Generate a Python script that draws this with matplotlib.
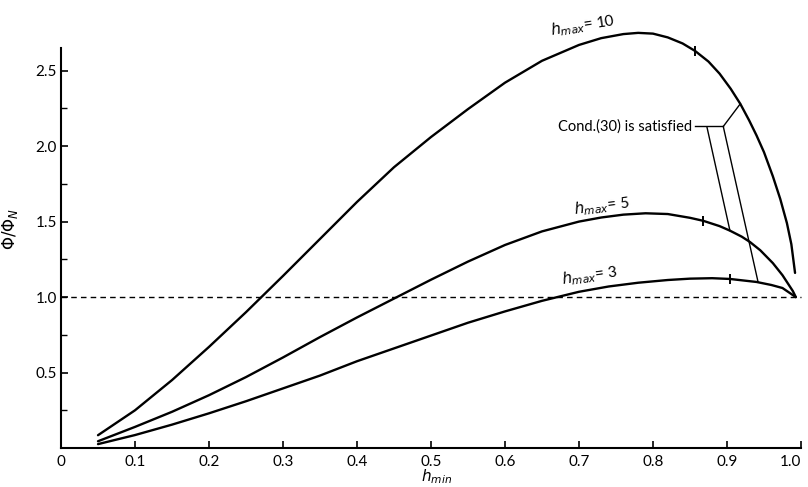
import matplotlib
matplotlib.use("Agg")
import matplotlib.pyplot as plt

plt.rcParams["font.family"] = ["Lato", "DejaVu Sans"]

# curve readings: h_min vs Phi/Phi_N
h10_x = [0.05, 0.1, 0.15, 0.2, 0.25, 0.3, 0.35, 0.4, 0.45, 0.5, 0.55, 0.6,
         0.65, 0.7, 0.73, 0.76, 0.78, 0.8, 0.82, 0.84, 0.857, 0.875, 0.89,
         0.905, 0.918, 0.93, 0.94, 0.95, 0.962, 0.972, 0.981, 0.987, 0.992]
h10_y = [0.085, 0.25, 0.45, 0.67, 0.90, 1.14, 1.385, 1.63, 1.86, 2.06, 2.245, 2.42,
         2.565, 2.67, 2.715, 2.742, 2.75, 2.745, 2.72, 2.68, 2.63, 2.56, 2.48,
         2.38, 2.28, 2.17, 2.07, 1.96, 1.80, 1.65, 1.49, 1.35, 1.16]

h5_x = [0.05, 0.1, 0.15, 0.2, 0.25, 0.3, 0.35, 0.4, 0.45, 0.5, 0.55, 0.6,
        0.65, 0.7, 0.73, 0.76, 0.79, 0.82, 0.85, 0.868, 0.89, 0.904, 0.92,
        0.931, 0.945, 0.962, 0.975, 0.989, 0.993]
h5_y = [0.045, 0.14, 0.24, 0.35, 0.47, 0.60, 0.735, 0.865, 0.99, 1.115, 1.235, 1.345,
        1.435, 1.50, 1.527, 1.546, 1.555, 1.55, 1.525, 1.505, 1.47, 1.44, 1.40,
        1.365, 1.31, 1.225, 1.145, 1.04, 1.0]

h3_x = [0.05, 0.1, 0.15, 0.2, 0.25, 0.3, 0.35, 0.4, 0.45, 0.5, 0.55, 0.6,
        0.65, 0.7, 0.74, 0.78, 0.82, 0.85, 0.88, 0.904, 0.94, 0.96, 0.975, 0.993]
h3_y = [0.026, 0.086, 0.155, 0.23, 0.31, 0.395, 0.48, 0.575, 0.66, 0.745, 0.83, 0.905,
        0.975, 1.035, 1.07, 1.095, 1.113, 1.122, 1.125, 1.12, 1.10, 1.08, 1.06, 1.0]

# small tick marks drawn across each curve
mark_x = [0.857, 0.868, 0.904]
mark_y = [2.63, 1.505, 1.12]

# points where the "Cond.(30)" leader lines touch the curves
cond_x = [0.918, 0.904, 0.942]
cond_y = [2.28, 1.44, 1.10]

x_ticks = [0, 0.1, 0.2, 0.3, 0.4, 0.5, 0.6, 0.7, 0.8, 0.9, 1.0]
x_labels = ["0", "0.1", "0.2", "0.3", "0.4", "0.5", "0.6", "0.7", "0.8", "0.9", "1.0"]
y_ticks = [0.5, 1.0, 1.5, 2.0, 2.5]
y_labels = ["0.5", "1.0", "1.5", "2.0", "2.5"]
y_minor = [0.25, 0.75, 1.25, 1.75, 2.25]

fig = plt.figure(figsize=(8.08, 4.87), dpi=100)
ax = fig.add_axes([0.0755, 0.080, 0.9158, 0.899])

lw = 1.7
for xs, ys in [(h10_x, h10_y), (h5_x, h5_y), (h3_x, h3_y)]:
    ax.plot(xs, ys, color="black", lw=lw, solid_capstyle="round",
            solid_joinstyle="round", clip_on=False)
ax.plot(mark_x, mark_y, ls="none", marker="|", ms=7, mew=1.4, color="black")

# reference line at 1.0
ax.axhline(1.0, xmin=0, xmax=1.0, color="black", lw=1.0, dashes=(4, 3), clip_on=False)

# curve labels
ax.text(0.705, 2.80, r"$h_{max}$= 10", fontsize=11, rotation=9, ha="center", va="center")
ax.text(0.731, 1.60, r"$h_{max}$= 5", fontsize=11, rotation=7, ha="center", va="center")
ax.text(0.714, 1.14, r"$h_{max}$= 3", fontsize=11, rotation=8, ha="center", va="center")

# condition annotation with leader lines
ax.text(0.853, 2.13, "Cond.(30) is satisfied", fontsize=10.5, ha="right", va="center")
ax.plot([0.857, 0.895], [2.13, 2.13], color="black", lw=1.0)
ax.plot([0.895, cond_x[0]], [2.13, cond_y[0]], color="black", lw=1.0)
ax.plot([0.873, cond_x[1]], [2.125, cond_y[1]], color="black", lw=1.0)
ax.plot([0.895, cond_x[2]], [2.13, cond_y[2]], color="black", lw=1.0)

ax.set_xlim(0, 1.0)
ax.set_ylim(0, 2.9)
ax.set_xticks(x_ticks)
ax.set_xticklabels(x_labels)
ax.set_yticks(y_ticks)
ax.set_yticklabels(y_labels)
ax.set_yticks(y_minor, minor=True)
ax.tick_params(axis="both", direction="in", length=5, width=1.2, labelsize=11, pad=5)
ax.tick_params(axis="y", which="minor", direction="in", length=4, width=1.0)
ax.tick_params(axis="y", pad=3)
ax.get_xticklabels()[-1].set_horizontalalignment("right")

ax.spines["top"].set_visible(False)
ax.spines["right"].set_visible(False)
ax.spines["left"].set_bounds(0, 2.65)
ax.spines["left"].set_linewidth(1.5)
ax.spines["bottom"].set_linewidth(1.5)

ax.set_xlabel(r"$h_{min}$", fontsize=11)
ax.xaxis.set_label_coords(0.508, -0.045)
ax.set_ylabel(r"$\Phi/\Phi_N$", fontsize=12)
ax.yaxis.set_label_coords(-0.055, 0.5)

fig.savefig("out.png", dpi=100)
